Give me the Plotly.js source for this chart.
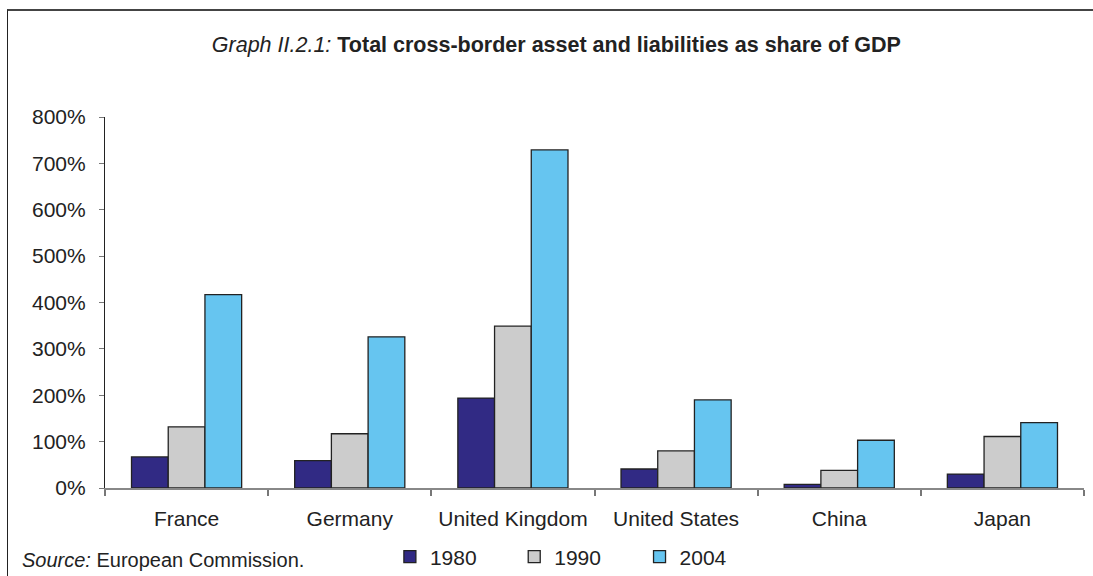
<!DOCTYPE html>
<html>
<head>
<meta charset="utf-8">
<script src="https://cdn.plot.ly/plotly-3.0.1.min.js"></script>
<style>
  html, body { margin: 0; padding: 0; background: #fff; }
  #wrap { position: relative; width: 1093px; height: 576px; }
  #chart { width: 1093px; height: 576px; }
  #frame { position: absolute; left: 7px; top: 9px; width: 1090px; height: 580px;
           border-top: 2px solid #444; border-left: 1px solid #222; pointer-events: none; }
</style>
</head>
<body>
<div id="wrap">
  <div id="chart"></div>
  <div id="frame"></div>
</div>
<script>
const categories = ["France", "Germany", "United Kingdom", "United States", "China", "Japan"];
const seriesNames = ["1980", "1990", "2004"];
const values1980 = [0.67, 0.59, 1.94, 0.41, 0.08, 0.30];
const values1990 = [1.32, 1.17, 3.49, 0.80, 0.38, 1.11];
const values2004 = [4.17, 3.26, 7.29, 1.90, 1.03, 1.41];
const yTickValues = [0, 1, 2, 3, 4, 5, 6, 7, 8];
const yTickLabels = ["0%", "100%", "200%", "300%", "400%", "500%", "600%", "700%", "800%"];

const colors = ["#312A84", "#CCCCCC", "#66C5F0"];
const allValues = [values1980, values1990, values2004];
const legendIds = ["legend", "legend2", "legend3"];

const traces = allValues.map((vals, i) => ({
  type: "bar",
  name: seriesNames[i],
  x: categories,
  y: vals,
  legend: legendIds[i],
  showlegend: true,
  marker: { color: colors[i], line: { color: "#222222", width: 1.3 } },
  hoverinfo: "x+y+name"
}));

const font = { family: "Liberation Sans, Arial, sans-serif", color: "#222222" };
const legendBase = {
  orientation: "h", yanchor: "middle", xanchor: "left", y: -0.186,
  font: Object.assign({}, font, { size: 21 }),
  bgcolor: "rgba(0,0,0,0)", itemwidth: 30
};

const layout = {
  width: 1093, height: 576,
  margin: { l: 105, r: 9, t: 117, b: 88, autoexpand: false },
  paper_bgcolor: "#ffffff", plot_bgcolor: "#ffffff",
  font: font,
  showlegend: true,
  bargap: 0.325, bargroupgap: 0,
  title: {
    text: "<i>Graph II.2.1:</i> <b>Total cross-border asset and liabilities as share of GDP</b>",
    font: Object.assign({}, font, { size: 21.5 }),
    x: 0.509, xref: "container", xanchor: "center", y: 0.922, yanchor: "middle"
  },
  xaxis: {
    type: "category", automargin: false,
    showline: true, linecolor: "#888888", linewidth: 1.5,
    ticks: "outside", tickson: "boundaries", ticklen: 6, tickcolor: "#777777", tickwidth: 1.5,
    tickfont: Object.assign({}, font, { size: 21 }),
    ticklabelstandoff: 11,
    showgrid: false, zeroline: false, fixedrange: true
  },
  yaxis: {
    range: [0, 8], automargin: false,
    tickvals: yTickValues, ticktext: yTickLabels,
    showline: true, linecolor: "#222222", linewidth: 1.2,
    ticks: "outside", ticklen: 5, tickcolor: "#777777", tickwidth: 1.2,
    tickfont: Object.assign({}, font, { size: 21 }),
    ticklabelstandoff: 9,
    showgrid: false, zeroline: false, fixedrange: true
  },
  legend: Object.assign({}, legendBase, { x: 0.291 }),
  legend2: Object.assign({}, legendBase, { x: 0.418 }),
  legend3: Object.assign({}, legendBase, { x: 0.546 }),
  annotations: [{
    text: "<i>Source:</i> European Commission.",
    xref: "paper", yref: "paper",
    x: -0.0868, y: -0.194, xanchor: "left", yanchor: "middle",
    showarrow: false,
    font: Object.assign({}, font, { size: 20 })
  }]
};

Plotly.newPlot("chart", traces, layout, { displayModeBar: false, responsive: false });
</script>
</body>
</html>
